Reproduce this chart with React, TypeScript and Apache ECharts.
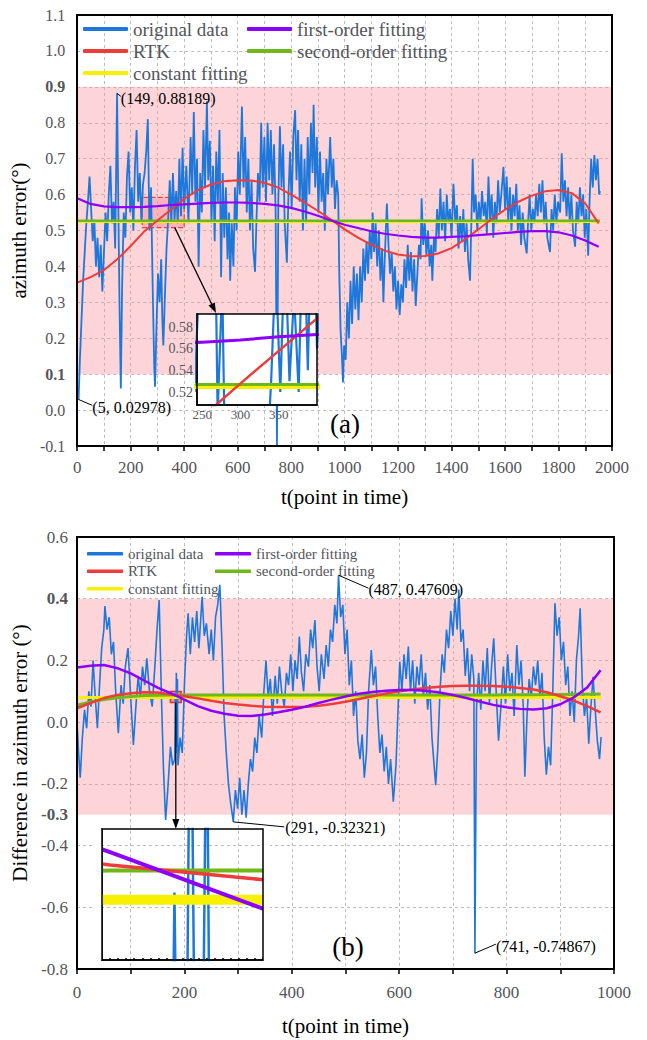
import React, { useEffect, useRef } from 'react';
import * as echarts from 'echarts';

// ---------------- Panel (a) data ----------------
const A_ORIGINAL: [number, number][] = [
  [0,0.06],[5,0.02978],[10,0.14],[16,0.25],[22,0.36],[28,0.44],[34,0.52],[40,0.58],[46,0.65],[52,0.56],
  [58,0.47],[64,0.53],[70,0.40],[76,0.48],[82,0.37],[88,0.46],[94,0.33],[100,0.44],[106,0.55],[112,0.47],
  [118,0.60],[124,0.68],[130,0.52],[136,0.58],[142,0.45],[149,0.88189],[154,0.55],[158,0.30],[163,0.06],[168,0.35],
  [174,0.55],[180,0.48],[186,0.65],[192,0.72],[198,0.55],[204,0.62],[210,0.50],[216,0.68],[222,0.78],[228,0.58],
  [234,0.66],[240,0.52],[246,0.63],[252,0.66],[258,0.72],[264,0.81],[270,0.50],[276,0.62],[282,0.35],[288,0.12],
  [291,0.065],[296,0.22],[302,0.38],[308,0.30],[314,0.42],[318,0.26],[322,0.18],[328,0.32],[334,0.45],[340,0.53],
  [346,0.64],[352,0.52],[358,0.66],[364,0.53],[370,0.61],[376,0.52],[382,0.70],[388,0.54],[394,0.73],[400,0.56],
  [408,0.68],[416,0.52],[424,0.76],[430,0.60],[436,0.83],[442,0.58],[448,0.70],[454,0.40],[460,0.66],[466,0.55],
  [472,0.78],[478,0.62],[485,0.86],[490,0.64],[496,0.75],[502,0.52],[508,0.68],[514,0.47],[520,0.72],[526,0.58],
  [532,0.78],[538,0.37],[544,0.66],[550,0.48],[556,0.62],[562,0.42],[568,0.55],[572,0.36],[578,0.52],[584,0.40],
  [590,0.62],[596,0.50],[602,0.72],[608,0.60],[616,0.845],[622,0.62],[628,0.76],[634,0.55],[640,0.70],[646,0.50],
  [652,0.64],[658,0.45],[665,0.385],[670,0.52],[676,0.66],[682,0.58],[688,0.80],[694,0.62],[700,0.76],[706,0.58],
  [712,0.80],[718,0.64],[724,0.78],[730,0.60],[736,0.74],[742,0.55],[747,-0.10],[752,0.58],[758,0.79],[764,0.62],
  [770,0.74],[776,0.52],[784,0.41],[790,0.60],[796,0.72],[802,0.56],[808,0.76],[815,0.835],[820,0.64],[826,0.78],
  [832,0.58],[838,0.74],[844,0.50],[850,0.70],[856,0.52],[862,0.76],[868,0.60],[874,0.80],[880,0.66],[884,0.85],
  [890,0.62],[896,0.76],[902,0.55],[908,0.72],[914,0.58],[920,0.66],[926,0.50],[932,0.70],[938,0.60],[946,0.76],
  [952,0.62],[958,0.70],[964,0.56],[970,0.64],[976,0.60],[980,0.38],[985,0.22],[990,0.15],[994,0.077],[998,0.18],
  [1004,0.14],[1010,0.30],[1016,0.20],[1022,0.36],[1028,0.24],[1034,0.40],[1040,0.28],[1046,0.38],[1052,0.25],[1058,0.40],
  [1064,0.30],[1070,0.45],[1076,0.36],[1082,0.47],[1088,0.38],[1094,0.50],[1100,0.42],[1105,0.55],[1110,0.44],[1116,0.52],
  [1122,0.40],[1128,0.50],[1134,0.36],[1140,0.45],[1145,0.30],[1150,0.42],[1158,0.575],[1164,0.46],[1170,0.38],[1176,0.44],
  [1182,0.33],[1188,0.40],[1194,0.28],[1200,0.36],[1206,0.265],[1212,0.35],[1218,0.30],[1224,0.42],[1230,0.34],[1236,0.46],
  [1242,0.36],[1248,0.44],[1254,0.33],[1260,0.42],[1266,0.29],[1272,0.38],[1278,0.46],[1284,0.42],[1288,0.59],[1294,0.46],
  [1300,0.52],[1306,0.43],[1312,0.50],[1318,0.40],[1324,0.46],[1328,0.36],[1334,0.48],[1340,0.44],[1346,0.56],[1352,0.48],
  [1358,0.617],[1364,0.50],[1370,0.58],[1376,0.47],[1382,0.60],[1388,0.52],[1394,0.56],[1400,0.48],[1407,0.63],[1414,0.52],
  [1420,0.57],[1426,0.45],[1432,0.54],[1438,0.47],[1444,0.56],[1450,0.44],[1456,0.52],[1462,0.42],[1469,0.36],[1474,0.52],
  [1479,0.70],[1484,0.55],[1490,0.60],[1496,0.50],[1502,0.58],[1508,0.52],[1514,0.61],[1520,0.54],[1526,0.58],[1532,0.49],
  [1538,0.65],[1544,0.53],[1550,0.60],[1556,0.48],[1562,0.58],[1568,0.52],[1574,0.64],[1580,0.55],[1586,0.60],[1594,0.677],
  [1600,0.56],[1606,0.65],[1612,0.52],[1618,0.62],[1624,0.50],[1630,0.60],[1636,0.54],[1642,0.63],[1648,0.50],[1654,0.57],
  [1660,0.46],[1666,0.55],[1672,0.48],[1681,0.436],[1686,0.52],[1692,0.60],[1698,0.50],[1704,0.56],[1710,0.52],[1716,0.60],
  [1722,0.54],[1728,0.63],[1734,0.55],[1740,0.64],[1746,0.52],[1752,0.58],[1758,0.48],[1768,0.44],[1774,0.56],[1780,0.50],
  [1786,0.60],[1792,0.52],[1798,0.58],[1806,0.55],[1812,0.715],[1818,0.58],[1824,0.64],[1830,0.54],[1836,0.62],[1842,0.52],
  [1848,0.60],[1854,0.50],[1862,0.455],[1868,0.58],[1874,0.52],[1880,0.62],[1886,0.54],[1892,0.60],[1898,0.48],[1904,0.56],
  [1911,0.43],[1916,0.58],[1922,0.70],[1928,0.62],[1934,0.71],[1940,0.64],[1946,0.70],[1952,0.60],[1955,0.61],
];
const A_FIT_T = [0,50,100,150,200,250,300,350,400,450,500,550,600,650,700,750,800,850,900,950,
  1000,1050,1100,1150,1200,1250,1300,1350,1400,1450,1500,1550,1600,1650,1700,1750,1800,1850,1900,1950];
const A_RTK = [0.355,0.37,0.39,0.42,0.457,0.497,0.528,0.558,0.588,0.612,0.628,0.637,0.64,0.639,0.633,0.62,0.60,0.578,0.555,0.53,
  0.503,0.48,0.46,0.444,0.433,0.428,0.429,0.436,0.451,0.475,0.503,0.532,0.558,0.58,0.597,0.609,0.613,0.604,0.575,0.52];
const A_FIRST = [0.59,0.574,0.567,0.565,0.565,0.566,0.568,0.571,0.573,0.575,0.577,0.578,0.578,0.577,0.574,0.57,0.563,0.553,0.541,0.528,
  0.516,0.507,0.498,0.491,0.486,0.482,0.48,0.48,0.482,0.484,0.487,0.49,0.493,0.496,0.498,0.498,0.495,0.486,0.472,0.455];
const A_SECOND: [number, number][] = [[0, 0.527], [1955, 0.527]];
const A_CONST: [number, number][] = [[0, 0.525], [1955, 0.525]];
const A_BAND = [0.1, 0.9];
const A_ZOOM = { t0: 243, t1: 400, v0: 0.508, v1: 0.592 };
const A_NOTES = [{ t: 149, v: 0.88189 }, { t: 5, v: 0.02978 }];

// ---------------- Panel (b) data ----------------
const B_ORIGINAL: [number, number][] = [
  [0,0.00],[3,-0.10],[6,-0.18],[10,-0.05],[14,0.04],[18,-0.02],[22,0.10],[26,0.05],[30,0.20],[34,0.08],
  [38,-0.02],[42,0.12],[46,0.24],[50,0.30],[52,0.376],[56,0.30],[60,0.34],[64,0.22],[68,0.26],[72,0.10],
  [77,-0.036],[82,0.12],[86,0.06],[90,0.18],[95,0.24],[100,0.08],[105,-0.074],[110,0.06],[114,0.15],[118,0.08],
  [122,0.18],[126,0.12],[130,0.207],[135,0.10],[140,0.05],[145,0.18],[149,0.30],[153,0.396],[157,0.10],[161,-0.15],
  [165,-0.317],[169,-0.22],[174,-0.08],[178,-0.14],[182,-0.12],[183,0.082],[184,-0.10],[185,0.16],[186,-0.08],[187,0.14],
  [188,-0.14],[192,-0.05],[196,-0.10],[200,0.12],[204,0.28],[207,0.353],[211,0.22],[215,0.34],[219,0.26],[223,0.36],
  [227,0.24],[233,0.406],[237,0.28],[241,0.32],[246,0.22],[250,0.30],[254,0.20],[258,0.34],[262,0.38],[266,0.445],
  [270,0.25],[274,0.02],[278,-0.10],[282,-0.20],[286,-0.26],[291,-0.32321],[295,-0.22],[299,-0.28],[303,-0.18],[307,-0.30],
  [311,-0.22],[315,-0.31],[319,-0.20],[323,-0.12],[327,-0.16],[331,-0.05],[335,-0.10],[339,0.02],[344,-0.05],[348,0.10],
  [352,0.20],[356,0.08],[360,0.14],[364,0.02],[369,0.15],[373,0.06],[377,0.18],[381,0.10],[386,0.05],[390,0.16],
  [394,0.12],[398,0.22],[402,0.10],[406,0.20],[410,0.14],[414,0.277],[418,0.16],[422,0.10],[426,0.22],[431,0.18],
  [435,0.30],[439,0.24],[443,0.331],[447,0.18],[451,0.10],[455,0.22],[460,0.14],[464,0.25],[468,0.18],[472,0.30],
  [476,0.26],[480,0.38],[484,0.32],[487,0.47609],[491,0.34],[495,0.38],[499,0.22],[503,0.30],[507,0.12],[511,0.20],
  [515,0.02],[519,0.10],[523,-0.06],[527,-0.12],[531,-0.04],[535,-0.18],[539,-0.10],[543,0.10],[548,0.234],[552,0.12],
  [556,0.18],[560,0.02],[564,-0.10],[568,-0.04],[572,-0.16],[576,-0.08],[580,-0.20],[584,-0.12],[589,-0.258],[594,-0.14],
  [598,0.05],[601,0.196],[605,0.10],[609,0.22],[613,0.14],[617,0.245],[621,0.10],[625,0.20],[629,0.06],[633,0.18],
  [637,0.12],[641,0.22],[645,0.08],[649,0.16],[653,0.04],[657,0.12],[661,-0.05],[665,-0.14],[668,-0.204],[672,-0.08],
  [676,0.10],[680,0.22],[684,0.16],[688,0.30],[692,0.24],[696,0.36],[700,0.28],[704,0.40],[708,0.30],[711,0.43],
  [715,0.26],[719,0.30],[723,0.15],[727,0.24],[731,0.10],[735,0.22],[739,0.14],[741,-0.74867],[744,0.05],[748,0.16],
  [752,0.04],[756,0.20],[760,0.10],[764,0.24],[768,0.06],[772,0.18],[776,0.272],[780,0.12],[785,-0.06],[789,0.04],
  [794,0.18],[798,0.06],[802,0.22],[806,0.10],[810,0.16],[814,0.02],[819,0.25],[823,0.12],[827,0.20],[831,0.05],
  [834,-0.177],[838,0.02],[842,0.14],[846,0.08],[850,0.18],[854,0.12],[858,0.20],[862,0.08],[866,0.16],[870,-0.05],
  [874,-0.17],[878,-0.08],[882,-0.14],[886,0.10],[890,0.385],[894,0.28],[898,0.34],[902,0.20],[906,0.26],[910,0.12],
  [914,0.18],[918,0.02],[922,0.10],[926,0.0],[930,0.20],[934,0.28],[937,0.369],[941,0.12],[945,0.02],[949,0.08],
  [953,-0.07],[957,0.05],[961,0.147],[965,0.04],[969,-0.06],[973,-0.12],[976,-0.048],
];
const B_FIT_T = [0,25,50,75,100,125,150,175,200,225,250,275,300,325,350,375,400,425,450,475,
  500,525,550,575,600,625,650,675,700,725,750,775,800,825,850,875,900,925,950,975];
const B_RTK = [0.045,0.062,0.078,0.088,0.094,0.097,0.096,0.0895,0.0842,0.077,0.069,0.062,0.057,0.053,0.050,0.049,0.049,0.050,0.053,0.059,
  0.066,0.075,0.084,0.093,0.100,0.106,0.111,0.115,0.117,0.118,0.118,0.117,0.115,0.111,0.106,0.097,0.084,0.070,0.052,0.032];
const B_FIRST = [0.177,0.183,0.185,0.175,0.158,0.135,0.112,0.093,0.0727,0.052,0.037,0.027,0.021,0.020,0.025,0.032,0.040,0.050,0.062,0.073,
  0.083,0.092,0.098,0.102,0.104,0.104,0.102,0.096,0.088,0.078,0.067,0.056,0.048,0.043,0.041,0.045,0.058,0.080,0.112,0.168];
const B_SECOND = [0.055,0.065,0.073,0.079,0.083,0.086,0.087,0.088,0.088,0.088,0.088,0.088,0.088,0.088,0.088,0.088,0.088,0.088,0.088,0.088,
  0.088,0.088,0.088,0.088,0.088,0.088,0.088,0.088,0.088,0.088,0.088,0.0882,0.0885,0.0888,0.089,0.0893,0.0897,0.090,0.0905,0.091];
const B_CONST: [number, number][] = [[0, 0.08], [976, 0.08]];
const B_BAND = [-0.3, 0.4];
const B_ZOOM = { t0: 174, t1: 194, v0: 0.0636, v1: 0.0993 };
const B_NOTES = [{ t: 291, v: -0.32321 }, { t: 487, v: 0.47609 }, { t: 741, v: -0.74867 }];

// ---------------- layout & styles ----------------
const FONT = 'Liberation Serif';
const C = { blue: '#1E78DC', red: '#EE3B3B', purple: '#8B00FF', green: '#70B817', yellow: '#F7F000' };
const GA = { left: 77, top: 15, width: 535, height: 431 };
const GAI = { left: 197, top: 314, width: 120, height: 91 };
const GB = { left: 77, top: 537, width: 537, height: 432 };
const GBI = { left: 102, top: 829, width: 161, height: 131 };
const AX_A = { xMin: 0, xMax: 2000, yMin: -0.1, yMax: 1.1 };
const AX_B = { xMin: 0, xMax: 1000, yMin: -0.8, yMax: 0.6 };
const NOTE_LAYOUT_A = [{ lx: 4, ly: 3, tx: 4, ty: 5 }, { lx: 14, ly: 6, tx: 14, ty: 8 }];
const NOTE_LAYOUT_B = [{ lx: 51, ly: 5, tx: 52, ty: 6 }, { lx: 30, ly: 13, tx: 30, ty: 14 }, { lx: 21, ly: -9, tx: 21, ty: -7 }];

const zip = (t: number[], v: number[]) => t.map((x, i) => [x, v[i]]);
const fmt1 = (v: number) => (Math.abs(v) < 1e-9 ? 0 : v).toFixed(1);
const near = (a: number, b: number) => Math.abs(a - b) < 1e-6;
const gridLine = () => ({ show: true, lineStyle: { color: '#bdbdbd', type: [3, 3] as any, width: 1 } });
const blackLine = () => ({ show: true, onZero: false, lineStyle: { color: '#000', width: 2 } });
const insetLine = () => ({ show: true, onZero: false, lineStyle: { color: '#000', width: 1.5 } });
const toPx = (g: any, ax: any, t: number, v: number) => [
  g.left + ((t - ax.xMin) / (ax.xMax - ax.xMin)) * g.width,
  g.top + ((ax.yMax - v) / (ax.yMax - ax.yMin)) * g.height,
];

function lineSeries(name: string, color: string, data: any, xi: number, yi: number, width: number, z: number) {
  return {
    type: 'line', name, data, xAxisIndex: xi, yAxisIndex: yi, z,
    showSymbol: false, symbol: 'none', silent: true, clip: true,
    itemStyle: { color }, lineStyle: { color, width, cap: 'butt' },
  };
}

function legendCfg(data: string[], left: number, top: number, fs: number, lh: number, iw: number, ih: number) {
  return {
    data, left, top, orient: 'vertical', itemWidth: iw, itemHeight: ih, itemGap: 0, icon: 'roundRect',
    padding: 0, selectedMode: false,
    textStyle: { fontSize: fs, fontFamily: FONT, lineHeight: lh },
  };
}

function arrow(x1: number, y1: number, x2: number, y2: number, z: number) {
  const ang = Math.atan2(y2 - y1, x2 - x1);
  const L = 10, W = 3.5;
  const bx = x2 - L * Math.cos(ang), by = y2 - L * Math.sin(ang);
  const px = -Math.sin(ang) * W, py = Math.cos(ang) * W;
  return [
    { type: 'line', silent: true, z, shape: { x1, y1, x2: bx, y2: by }, style: { stroke: '#000', lineWidth: 1.3 } },
    { type: 'polygon', silent: true, z, shape: { points: [[x2, y2], [bx + px, by + py], [bx - px, by - py]] }, style: { fill: '#000' } },
  ];
}

function textEl(text: string, x: number, y: number, size: number, z: number, align = 'left') {
  return {
    type: 'text', silent: true, z,
    style: { text, x, y, fontSize: size, fontFamily: FONT, fill: '#000', align, verticalAlign: 'middle', textAlign: align, textVerticalAlign: 'middle' },
  };
}

function buildGraphics(): any[] {
  const g: any[] = [];
  const rect = (x: number, y: number, w: number, h: number, lw: number, z: number, fill = 'none') => ({
    type: 'rect', silent: true, z, shape: { x, y, width: w, height: h },
    style: { fill, stroke: lw > 0 ? '#000' : 'none', lineWidth: lw },
  });
  const frame = (r: any, lw: number, z: number, fill = 'none') => rect(r.left, r.top, r.width, r.height, lw, z, fill);
  g.push(frame(GA, 2, 10));
  g.push(frame(GB, 2, 10));
  g.push(frame(GAI, 0, 5, '#fff'));
  g.push(frame(GAI, 1.5, 8));
  g.push(rect(GBI.left - 7, GBI.top, 7, GBI.height, 0, 7, '#fff'));
  g.push(rect(GBI.left + GBI.width, GBI.top, 7, GBI.height, 0, 7, '#fff'));
  g.push(frame(GBI, 1.5, 8));

  const notes = (list: { t: number; v: number }[], lay: any[], grid: any, ax: any) => {
    list.forEach((n, i) => {
      const p = toPx(grid, ax, n.t, n.v);
      const L = lay[i];
      g.push({ type: 'line', silent: true, z: 10, shape: { x1: p[0], y1: p[1], x2: p[0] + L.lx, y2: p[1] + L.ly }, style: { stroke: '#000', lineWidth: 1 } });
      g.push(textEl(`(${n.t}, ${n.v})`, p[0] + L.tx, p[1] + L.ty, 16, 10));
    });
  };
  notes(A_NOTES, NOTE_LAYOUT_A, GA, AX_A);
  notes(B_NOTES, NOTE_LAYOUT_B, GB, AX_B);

  const aStart = toPx(GA, AX_A, A_ZOOM.t0 + 0.78 * (A_ZOOM.t1 - A_ZOOM.t0), A_ZOOM.v0);
  g.push(...arrow(aStart[0], aStart[1], GAI.left + 19, GAI.top - 1, 9));
  const bStart = toPx(GB, AX_B, (B_ZOOM.t0 + B_ZOOM.t1) / 2, B_ZOOM.v0);
  g.push(...arrow(bStart[0], bStart[1], bStart[0], GBI.top, 9));

  g.push(textEl('(a)', 345, 424, 27, 10, 'center'));
  g.push(textEl('(b)', 348, 947, 27, 10, 'center'));
  return g;
}

function buildOption(): any {
  const aFits = (xi: number, yi: number, w: number[], z: number) => [
    lineSeries('constant fitting', C.yellow, A_CONST, xi, yi, w[0], z),
    lineSeries('second-order fitting', C.green, A_SECOND, xi, yi, w[1], z),
    lineSeries('RTK', C.red, zip(A_FIT_T, A_RTK), xi, yi, w[2], z),
    lineSeries('first-order fitting', C.purple, zip(A_FIT_T, A_FIRST), xi, yi, w[3], z),
  ];
  const bFits = (xi: number, yi: number, w: number[], z: number) => [
    lineSeries('constant fitting', C.yellow, B_CONST, xi, yi, w[0], z),
    lineSeries('second-order fitting', C.green, zip(B_FIT_T, B_SECOND), xi, yi, w[1], z),
    lineSeries('RTK', C.red, zip(B_FIT_T, B_RTK), xi, yi, w[2], z),
    lineSeries('first-order fitting', C.purple, zip(B_FIT_T, B_FIRST), xi, yi, w[3], z),
  ];
  const labelStyle = (fs: number, margin: number) => ({ fontSize: fs, margin, fontFamily: FONT });
  const nameStyle = () => ({ fontSize: 21, fontFamily: FONT });
  const boldRich = (fs: number) => ({ b: { fontWeight: 'bold', fontSize: fs, fontFamily: FONT } });

  return {
    animation: false,
    grid: [{ ...GA }, { ...GAI }, { ...GB }, { ...GBI }],
    legend: [
      legendCfg(['original data', 'RTK', 'constant fitting'], 83, 18, 19, 22, 45, 4),
      legendCfg(['first-order fitting', 'second-order fitting'], 247, 18, 19, 22, 45, 4),
      legendCfg(['original data', 'RTK', 'constant fitting'], 87, 545, 15, 17.5, 36, 3.5),
      legendCfg(['first-order fitting', 'second-order fitting'], 215, 545, 15, 17.5, 36, 3.5),
    ],
    xAxis: [
      {
        gridIndex: 0, type: 'value', min: AX_A.xMin, max: AX_A.xMax, interval: 100,
        axisLine: blackLine(), axisTick: { show: true, length: 5, lineStyle: { color: '#000', width: 1.5 } },
        axisLabel: { ...labelStyle(17, 13), formatter: (v: number) => (v % 200 === 0 ? String(v) : '') },
        splitLine: gridLine(),
        name: 't(point in time)', nameLocation: 'middle', nameGap: 40, nameTextStyle: nameStyle(),
      },
      {
        gridIndex: 1, type: 'value', min: A_ZOOM.t0, max: A_ZOOM.t1, splitNumber: 3, z: 6,
        axisLine: insetLine(), axisTick: { show: false },
        axisLabel: { ...labelStyle(13, 3), showMinLabel: false, showMaxLabel: false },
        splitLine: { show: false },
      },
      {
        gridIndex: 2, type: 'value', min: AX_B.xMin, max: AX_B.xMax, interval: 100,
        axisLine: blackLine(), axisTick: { show: true, length: 5, lineStyle: { color: '#000', width: 1.5 } },
        axisLabel: { ...labelStyle(17, 15), formatter: (v: number) => (v % 200 === 0 ? String(v) : '') },
        splitLine: gridLine(),
        name: 't(point in time)', nameLocation: 'middle', nameGap: 46, nameTextStyle: nameStyle(),
      },
      {
        gridIndex: 3, type: 'value', min: B_ZOOM.t0, max: B_ZOOM.t1, interval: 1, z: 6,
        axisLine: insetLine(),
        axisTick: { show: true, inside: true, length: 2, lineStyle: { color: '#000', width: 1.5 } },
        axisLabel: { show: false }, splitLine: { show: false },
      },
    ],
    yAxis: [
      {
        gridIndex: 0, type: 'value', min: AX_A.yMin, max: AX_A.yMax, interval: 0.1,
        axisLine: blackLine(), axisTick: { show: false },
        axisLabel: {
          ...labelStyle(16, 12),
          formatter: (v: number) => { const s = fmt1(v); return near(v, A_BAND[0]) || near(v, A_BAND[1]) ? `{b|${s}}` : s; },
          rich: boldRich(16),
        },
        splitLine: gridLine(),
        name: 'azimuth error(°)', nameLocation: 'middle', nameGap: 43, nameTextStyle: nameStyle(),
      },
      {
        gridIndex: 1, type: 'value', min: A_ZOOM.v0, max: A_ZOOM.v1, splitNumber: 4, z: 6,
        axisLine: insetLine(), axisTick: { show: false },
        axisLabel: { ...labelStyle(14, 4), showMinLabel: false, showMaxLabel: false, formatter: (v: number) => v.toFixed(2) },
        splitLine: { show: false },
      },
      {
        gridIndex: 2, type: 'value', min: AX_B.yMin, max: AX_B.yMax, interval: 0.2,
        axisLine: blackLine(), axisTick: { show: false },
        axisLabel: {
          ...labelStyle(17, 9),
          formatter: (v: number) => { const s = fmt1(v); return near(v, B_BAND[1]) ? `{b|${s}}` : s; },
          rich: boldRich(17),
        },
        splitLine: gridLine(),
        name: 'Difference in azimuth error (°)', nameLocation: 'middle', nameGap: 43, nameTextStyle: nameStyle(),
      },
      {
        gridIndex: 2, type: 'value', min: AX_B.yMin, max: AX_B.yMax, interval: 0.1, position: 'left',
        axisLine: { show: false }, axisTick: { show: false }, splitLine: { show: false },
        axisLabel: {
          ...labelStyle(17, 9),
          formatter: (v: number) => (near(v, B_BAND[0]) ? `{b|${fmt1(v)}}` : ''),
          rich: boldRich(17),
        },
      },
      {
        gridIndex: 3, type: 'value', min: B_ZOOM.v0, max: B_ZOOM.v1, z: 6,
        axisLine: insetLine(), axisTick: { show: false },
        axisLabel: { show: false }, splitLine: { show: false },
      },
    ],
    series: [
      {
        type: 'line', name: '_bandA', data: [], xAxisIndex: 0, yAxisIndex: 0, z: 1, silent: true,
        markArea: { silent: true, itemStyle: { color: 'rgba(250,150,160,0.4)' },
          data: [[{ xAxis: AX_A.xMin, yAxis: A_BAND[0] }, { xAxis: AX_A.xMax, yAxis: A_BAND[1] }]] },
      },
      lineSeries('original data', C.blue, A_ORIGINAL, 0, 0, 1.8, 2),
      {
        type: 'line', name: '_zoomA', data: [], xAxisIndex: 0, yAxisIndex: 0, z: 3, silent: true,
        markArea: { silent: true,
          itemStyle: { color: 'rgba(245,120,140,0.35)', borderColor: '#F04040', borderWidth: 1.2, borderType: 'dashed' },
          data: [[{ xAxis: A_ZOOM.t0, yAxis: A_ZOOM.v0 }, { xAxis: A_ZOOM.t1, yAxis: A_ZOOM.v1 }]] },
      },
      ...aFits(0, 0, [3, 2.5, 2, 2.2], 4),
      lineSeries('original data', C.blue, A_ORIGINAL, 1, 1, 2.2, 6),
      ...aFits(1, 1, [5, 3, 2.5, 3], 6),
      {
        type: 'line', name: '_bandB', data: [], xAxisIndex: 2, yAxisIndex: 2, z: 1, silent: true,
        markArea: { silent: true, itemStyle: { color: 'rgba(250,150,160,0.4)' },
          data: [[{ xAxis: AX_B.xMin, yAxis: B_BAND[0] }, { xAxis: AX_B.xMax, yAxis: B_BAND[1] }]] },
      },
      lineSeries('original data', C.blue, B_ORIGINAL, 2, 2, 1.6, 2),
      ...bFits(2, 2, [3, 3, 2.5, 2.5], 4),
      {
        type: 'line', name: '_zoomB', data: [], xAxisIndex: 2, yAxisIndex: 2, z: 5, silent: true,
        markArea: { silent: true,
          itemStyle: { color: '#F59A9A', borderColor: '#E52B2B', borderWidth: 1.5 },
          data: [[{ xAxis: B_ZOOM.t0, yAxis: B_ZOOM.v0 }, { xAxis: B_ZOOM.t1, yAxis: B_ZOOM.v1 }]] },
      },
      lineSeries('original data', C.blue, B_ORIGINAL, 3, 4, 2.5, 6),
      ...bFits(3, 4, [10, 4, 3.5, 4], 6),
    ],
    graphic: buildGraphics(),
  };
}

export default function App() {
  const ref = useRef<HTMLDivElement>(null);
  useEffect(() => {
    const el = ref.current!;
    const chart = echarts.init(el, null, { renderer: 'svg' });
    chart.setOption(buildOption());
    return () => chart.dispose();
  }, []);
  return <div ref={ref} style={{ position: 'fixed', left: 0, top: 0, width: 647, height: 1040, background: '#fff' }} />;
}
